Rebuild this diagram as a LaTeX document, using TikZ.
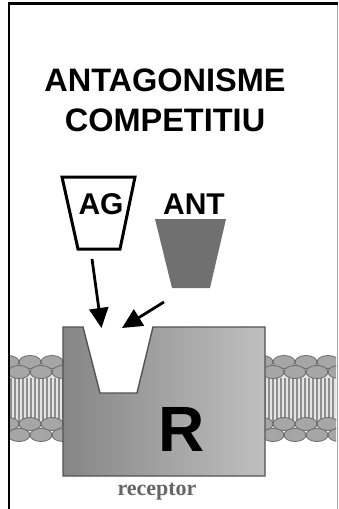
\documentclass[tikz,border=0pt]{standalone}
\usepackage{fontspec}
\setmainfont{Liberation Sans}
\newfontfamily\serifface{Liberation Serif}
\usetikzlibrary{arrows.meta}
\definecolor{headfill}{HTML}{A6A6A6}
\definecolor{headline}{HTML}{6A6A6A}
\definecolor{tailbg}{HTML}{E4E4E4}
\definecolor{taildark}{HTML}{8E8E8E}
\definecolor{antgray}{HTML}{707070}
\tikzset{
  label/.style={font=\bfseries\fontsize{30}{30}\selectfont, inner sep=0pt, anchor=center},
  title/.style={font=\bfseries\fontsize{32.5}{40}\selectfont, inner sep=0pt, align=center},
  head/.style={fill=headfill, draw=headline, line width=0.8pt},
  bindarrow/.style={line width=2.8pt, -{Triangle[length=20pt,width=19pt]}},
  frameline/.style={line width=2.4pt, black},
}
% one patch of lipid bilayer between x = #1 and x = #2
\newcommand{\bilayer}[2]{%
  \begin{scope}
    \clip (#1,354) rectangle (#2,446);
    \fill[tailbg] (#1,372) rectangle (#2,428);
    \foreach \x in {-4,0,...,80}{
      \fill[taildark] (#1+\x*1,378) rectangle (#1+\x*1+1.6,422);
    }
    \foreach \x in {-2,20,...,90}{
      \draw[head] (#1+\x,362) ellipse (11 and 6.5);
      \draw[head] (#1+\x,424) ellipse (11 and 6.5);
    }
    \foreach \x in {9,31,...,100}{
      \draw[head] (#1+\x,372) ellipse (11 and 6.5);
      \draw[head] (#1+\x,435) ellipse (11 and 6.5);
    }
  \end{scope}}
\begin{document}
\begin{tikzpicture}[x=1pt,y=-1pt]
\useasboundingbox (0,0) rectangle (338,509);
\fill[white] (0,0) rectangle (338,509);

% frame
\draw[line width=0.8pt, gray!70] (337,3.5) -- (337,509);
\draw[frameline] (9,509) -- (9,3.5) -- (338,3.5);

% title
\node[title] (title) at (165,100) {ANTAGONISME\\COMPETITIU};

% membrane on both sides of the receptor
\bilayer{10}{64}
\bilayer{264}{336}

% receptor with its binding notch
\draw[draw=gray!65!black, line width=1.4pt, left color=gray!95, right color=gray!50]
  (63,327) -- (83,327) -- (100,393) -- (137,393) -- (153,327)
  -- (265,327) -- (265,476) -- (63,476) -- cycle;
\node[font=\bfseries\fontsize{64}{64}\selectfont, inner sep=0pt] (R) at (182,429) {R};
\node[font=\serifface\bfseries\fontsize{22}{22}\selectfont, text=gray!80!black, inner sep=0pt] (rec) at (157,492) {receptor};

% agonist
\draw[line width=3pt, fill=white] (62,177) -- (135,177) -- (120,249) -- (78,249) -- cycle;
\node[label] (AG) at (101,204) {AG};
% antagonist
\fill[antgray] (155,219) -- (226,219) -- (210,288) -- (172,288) -- cycle;
\node[label] (ANT) at (194,204) {ANT};

% approach arrows
\coordinate (agfrom) at (92,259);
\coordinate (agto) at (101.5,328);
\coordinate (antfrom) at (164,302);
\coordinate (antto) at (122,328);
\draw[bindarrow] (agfrom) -- (agto);
\draw[bindarrow] (antfrom) -- (antto);
\end{tikzpicture}
\end{document}
